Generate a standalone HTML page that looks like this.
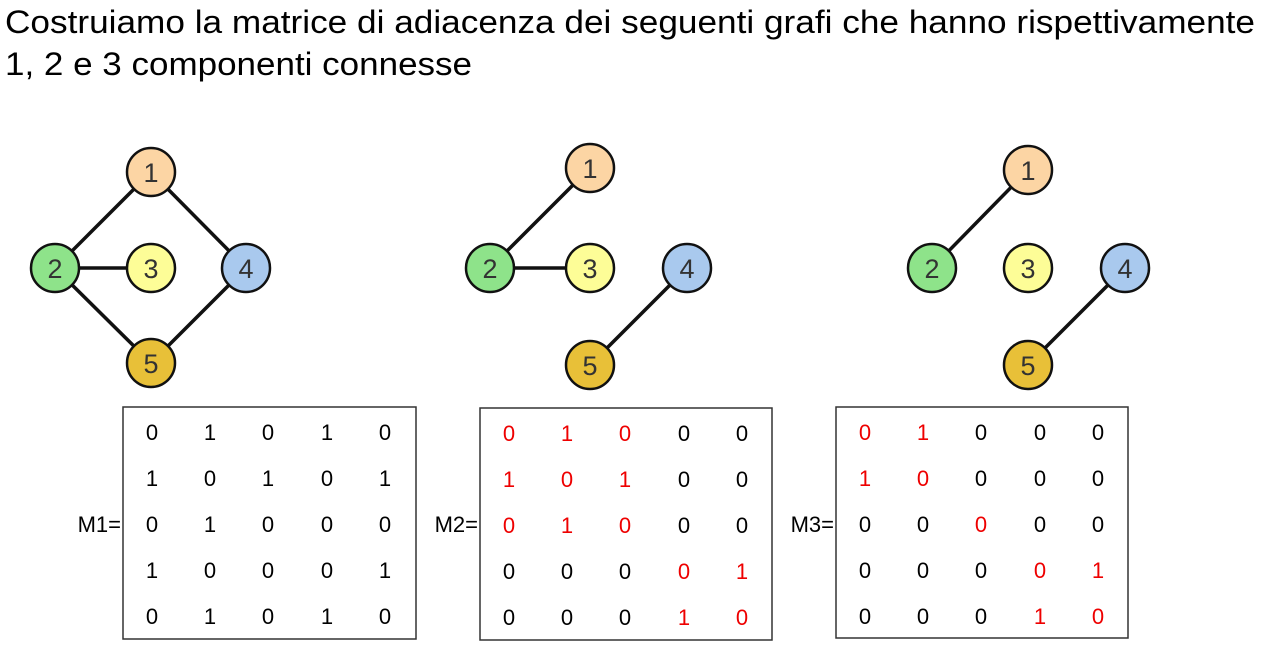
<!DOCTYPE html>
<html><head><meta charset="utf-8"><style>
body{margin:0;background:#fff;width:1264px;height:655px;overflow:hidden}
svg{display:block}
</style></head><body>
<svg width="1264" height="655" xmlns="http://www.w3.org/2000/svg" font-family="Liberation Sans, DejaVu Sans, sans-serif">
<text x="5" y="33" font-size="32" fill="#000" textLength="1250" lengthAdjust="spacingAndGlyphs">Costruiamo la matrice di adiacenza dei seguenti grafi che hanno rispettivamente</text>
<text x="5" y="75" font-size="32" fill="#000" textLength="467" lengthAdjust="spacingAndGlyphs">1, 2 e 3 componenti connesse</text>
<g stroke="#111" stroke-width="3.5">
<line x1="151" y1="172" x2="55" y2="268"/><line x1="55" y1="268" x2="151" y2="268"/>
<line x1="151" y1="172" x2="246" y2="268"/><line x1="55" y1="268" x2="151" y2="363"/>
<line x1="246" y1="268" x2="151" y2="363"/>
<line x1="590" y1="168" x2="490" y2="268"/><line x1="490" y1="268" x2="590" y2="268"/>
<line x1="687" y1="268" x2="590" y2="365"/>
<line x1="1028" y1="170" x2="932" y2="268"/><line x1="1125" y1="268" x2="1028" y2="365"/>
</g>
<g stroke="#111" stroke-width="2.5" font-size="27" text-anchor="middle" fill="#000">
<g>
<circle cx="151" cy="172" r="24" fill="#fcd5a4"/><circle cx="55" cy="268" r="24" fill="#8ee38a"/>
<circle cx="151" cy="268" r="24" fill="#fdfd97"/><circle cx="246" cy="268" r="24" fill="#a9c9ee"/>
<circle cx="151" cy="363" r="24" fill="#e8c038"/>
<circle cx="590" cy="168" r="24" fill="#fcd5a4"/><circle cx="490" cy="268" r="24" fill="#8ee38a"/>
<circle cx="590" cy="268" r="24" fill="#fdfd97"/><circle cx="687" cy="268" r="24" fill="#a9c9ee"/>
<circle cx="590" cy="365" r="24" fill="#e8c038"/>
<circle cx="1028" cy="170" r="24" fill="#fcd5a4"/><circle cx="932" cy="268" r="24" fill="#8ee38a"/>
<circle cx="1028" cy="268" r="24" fill="#fdfd97"/><circle cx="1125" cy="268" r="24" fill="#a9c9ee"/>
<circle cx="1028" cy="365" r="24" fill="#e8c038"/>
</g>
<g stroke="none" fill="#333">
<text x="151" y="182">1</text><text x="55" y="278">2</text><text x="151" y="278">3</text><text x="246" y="278">4</text><text x="151" y="373">5</text>
<text x="590" y="178">1</text><text x="490" y="278">2</text><text x="590" y="278">3</text><text x="687" y="278">4</text><text x="590" y="375">5</text>
<text x="1028" y="180">1</text><text x="932" y="278">2</text><text x="1028" y="278">3</text><text x="1125" y="278">4</text><text x="1028" y="375">5</text>
</g>
</g>
<g fill="none" stroke="#333" stroke-width="1.5">
<rect x="123" y="407" width="293" height="232"/>
<rect x="480" y="408" width="292" height="232"/>
<rect x="836" y="407" width="292" height="231"/>
</g>
<g font-size="22" text-anchor="end" fill="#000">
<text x="121" y="532">M1=</text><text x="478" y="532">M2=</text><text x="834" y="532">M3=</text>
</g>
<g font-size="22" text-anchor="middle" fill="#000">
<text y="440"><tspan x="152">0</tspan><tspan x="210">1</tspan><tspan x="268">0</tspan><tspan x="327">1</tspan><tspan x="385">0</tspan></text>
<text y="486"><tspan x="152">1</tspan><tspan x="210">0</tspan><tspan x="268">1</tspan><tspan x="327">0</tspan><tspan x="385">1</tspan></text>
<text y="532"><tspan x="152">0</tspan><tspan x="210">1</tspan><tspan x="268">0</tspan><tspan x="327">0</tspan><tspan x="385">0</tspan></text>
<text y="578"><tspan x="152">1</tspan><tspan x="210">0</tspan><tspan x="268">0</tspan><tspan x="327">0</tspan><tspan x="385">1</tspan></text>
<text y="624"><tspan x="152">0</tspan><tspan x="210">1</tspan><tspan x="268">0</tspan><tspan x="327">1</tspan><tspan x="385">0</tspan></text>
<text y="441"><tspan x="509" fill="#e00">0</tspan><tspan x="567" fill="#e00">1</tspan><tspan x="625" fill="#e00">0</tspan><tspan x="684">0</tspan><tspan x="742">0</tspan></text>
<text y="487"><tspan x="509" fill="#e00">1</tspan><tspan x="567" fill="#e00">0</tspan><tspan x="625" fill="#e00">1</tspan><tspan x="684">0</tspan><tspan x="742">0</tspan></text>
<text y="533"><tspan x="509" fill="#e00">0</tspan><tspan x="567" fill="#e00">1</tspan><tspan x="625" fill="#e00">0</tspan><tspan x="684">0</tspan><tspan x="742">0</tspan></text>
<text y="579"><tspan x="509">0</tspan><tspan x="567">0</tspan><tspan x="625">0</tspan><tspan x="684" fill="#e00">0</tspan><tspan x="742" fill="#e00">1</tspan></text>
<text y="625"><tspan x="509">0</tspan><tspan x="567">0</tspan><tspan x="625">0</tspan><tspan x="684" fill="#e00">1</tspan><tspan x="742" fill="#e00">0</tspan></text>
<text y="440"><tspan x="865" fill="#e00">0</tspan><tspan x="923" fill="#e00">1</tspan><tspan x="981">0</tspan><tspan x="1040">0</tspan><tspan x="1098">0</tspan></text>
<text y="486"><tspan x="865" fill="#e00">1</tspan><tspan x="923" fill="#e00">0</tspan><tspan x="981">0</tspan><tspan x="1040">0</tspan><tspan x="1098">0</tspan></text>
<text y="532"><tspan x="865">0</tspan><tspan x="923">0</tspan><tspan x="981" fill="#e00">0</tspan><tspan x="1040">0</tspan><tspan x="1098">0</tspan></text>
<text y="578"><tspan x="865">0</tspan><tspan x="923">0</tspan><tspan x="981">0</tspan><tspan x="1040" fill="#e00">0</tspan><tspan x="1098" fill="#e00">1</tspan></text>
<text y="624"><tspan x="865">0</tspan><tspan x="923">0</tspan><tspan x="981">0</tspan><tspan x="1040" fill="#e00">1</tspan><tspan x="1098" fill="#e00">0</tspan></text>
</g>
</svg>
</body></html>
